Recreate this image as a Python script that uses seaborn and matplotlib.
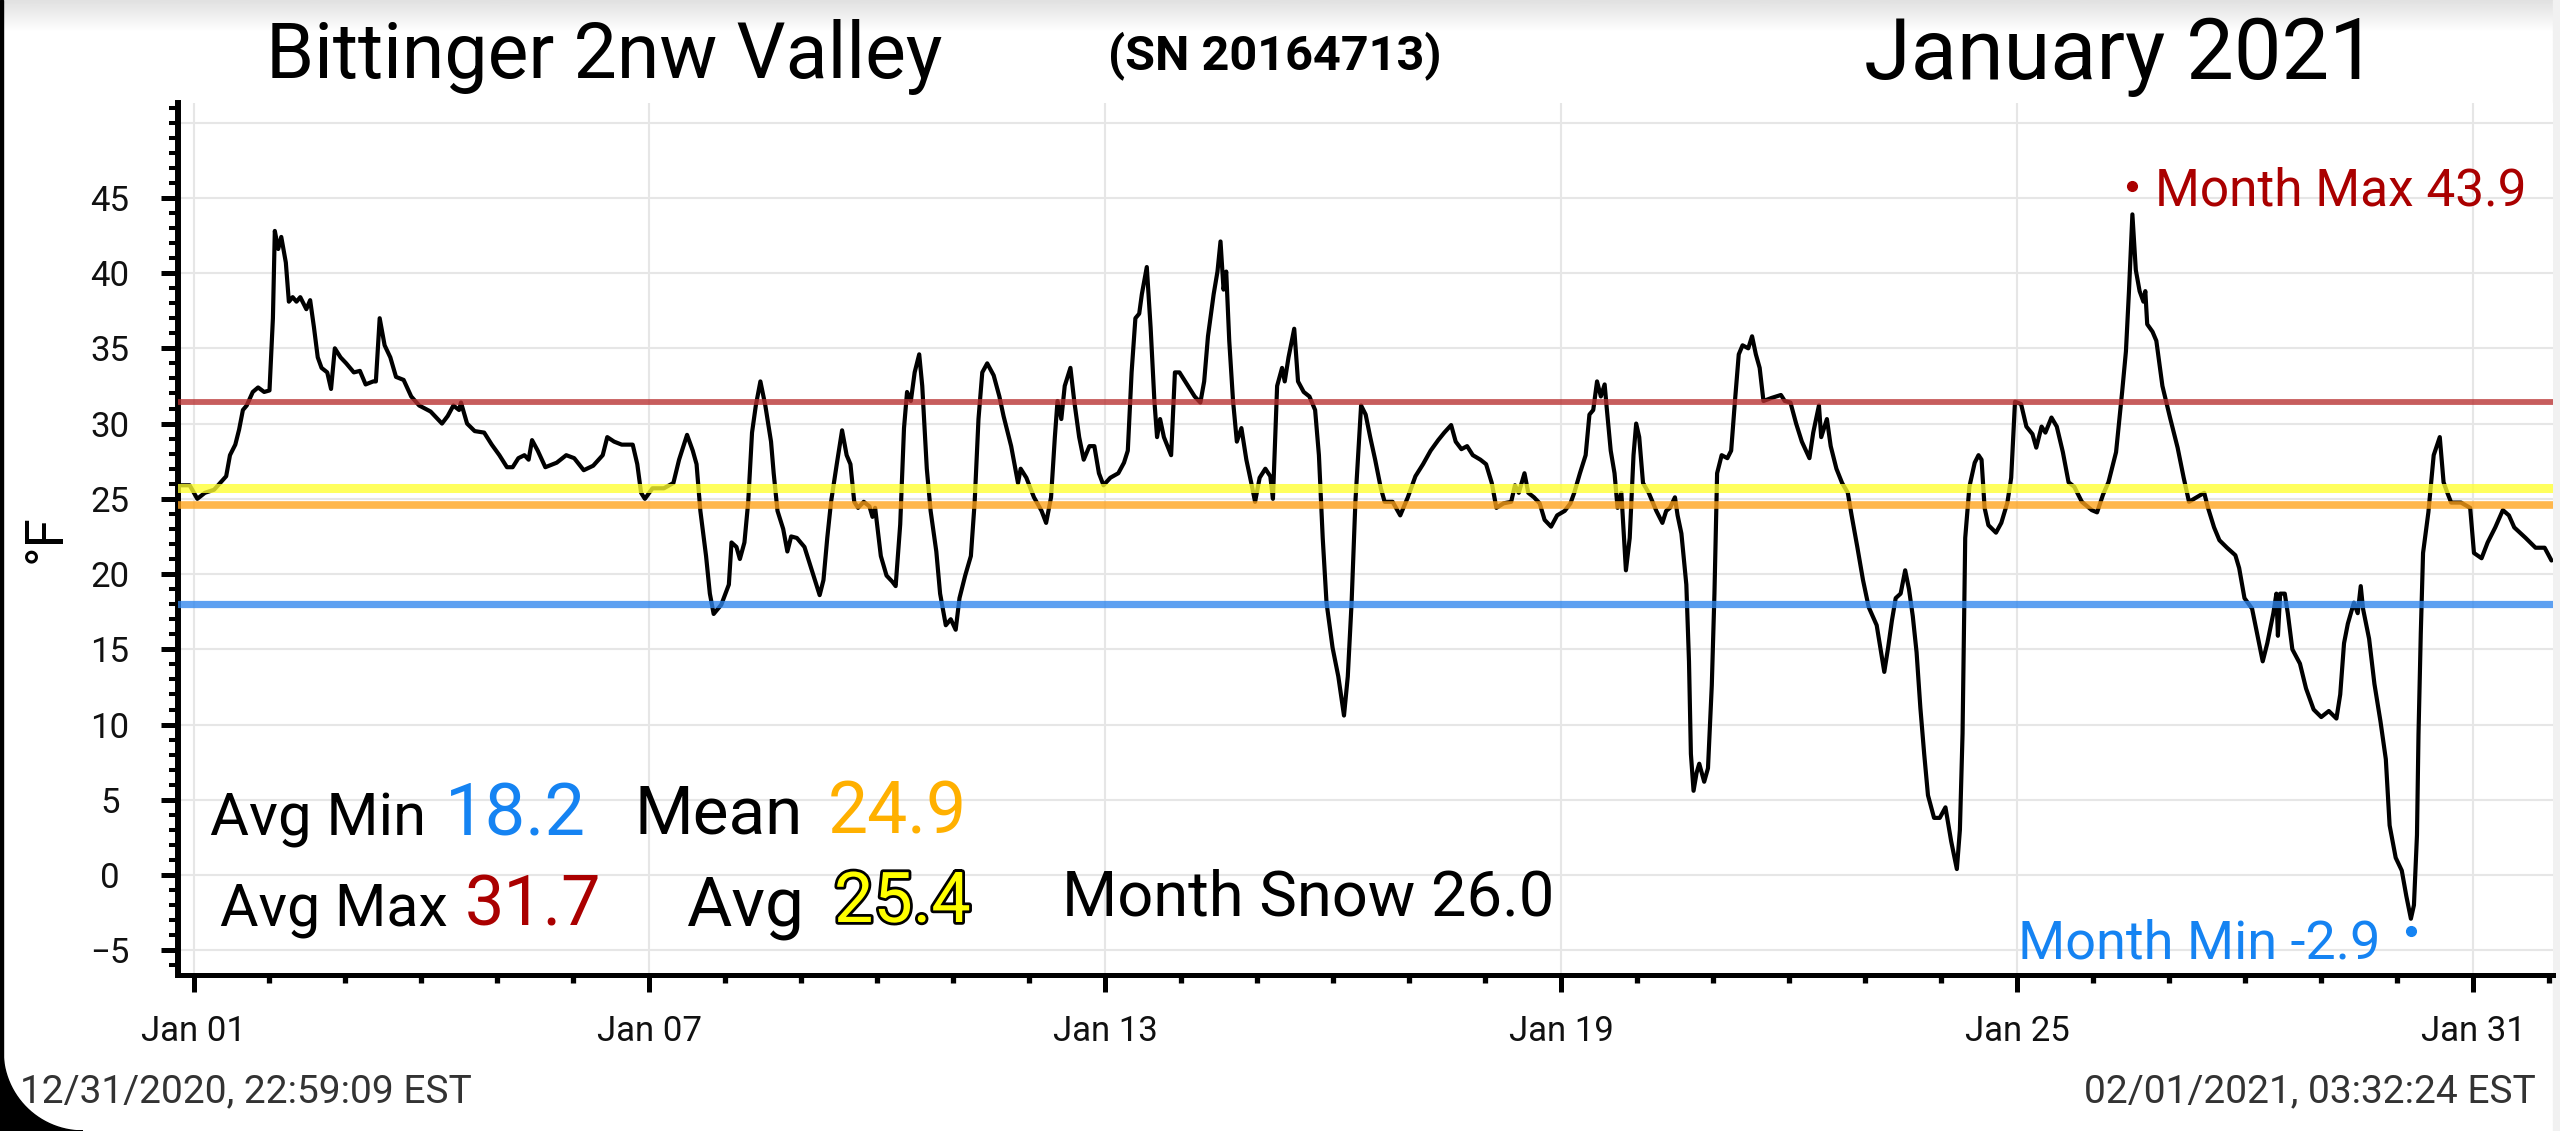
import numpy as np
import pandas as pd
import matplotlib
matplotlib.use("Agg")
import matplotlib.pyplot as plt
import matplotlib.dates as mdates
import matplotlib.ticker as mticker
import matplotlib.patheffects as pe
from matplotlib.patches import Polygon, Rectangle
import seaborn as sns

# ── temperature trace (days after 2021-01-01 00:00, °F) ──
days = [
    -0.20, -0.05, 0.05, 0.15, 0.27, 0.35, 0.43, 0.48, 0.55, 0.60, 0.65, 0.70, 0.78, 0.85, 0.93, 1.00,
    1.045, 1.07, 1.115, 1.155, 1.215, 1.255, 1.305, 1.355, 1.405, 1.485, 1.535, 1.585, 1.635, 1.685,
    1.76, 1.81, 1.86, 1.935, 2.01, 2.11, 2.19, 2.265, 2.365, 2.40, 2.45, 2.515, 2.59, 2.665, 2.765,
    2.865, 2.97, 3.12, 3.27, 3.345, 3.42, 3.495, 3.52, 3.60, 3.70, 3.825, 3.925, 4.025, 4.125, 4.20,
    4.275, 4.355, 4.41, 4.455, 4.53, 4.63, 4.78, 4.905, 5.01, 5.135, 5.26, 5.385, 5.445, 5.535, 5.635,
    5.78, 5.84, 5.89, 5.94, 6.04, 6.19, 6.315, 6.39, 6.495, 6.57, 6.62, 6.67, 6.745, 6.795, 6.845,
    6.945, 7.045, 7.08, 7.145, 7.19, 7.25, 7.30, 7.35, 7.40, 7.46, 7.525, 7.60, 7.635, 7.685, 7.76,
    7.815, 7.865, 7.94, 8.04, 8.14, 8.24, 8.29, 8.34, 8.39, 8.465, 8.535, 8.595, 8.645, 8.695, 8.745,
    8.82, 8.895, 8.935, 8.97, 9.045, 9.12, 9.195, 9.24, 9.30, 9.35, 9.39, 9.44, 9.49, 9.55, 9.59,
    9.65, 9.70, 9.775, 9.825, 9.90, 9.965, 10.03, 10.08, 10.155, 10.23, 10.28, 10.33, 10.38, 10.445,
    10.53, 10.605, 10.66, 10.76, 10.85, 10.885, 10.96, 11.06, 11.16, 11.22, 11.285, 11.335, 11.37,
    11.42, 11.465, 11.54, 11.59, 11.655, 11.715, 11.79, 11.855, 11.915, 11.975, 12.065, 12.17, 12.245,
    12.295, 12.345, 12.395, 12.445, 12.48, 12.545, 12.595, 12.645, 12.68, 12.72, 12.77, 12.865, 12.915,
    12.975, 13.05, 13.175, 13.25, 13.30, 13.35, 13.425, 13.475, 13.515, 13.555, 13.59, 13.63, 13.68,
    13.73, 13.79, 13.855, 13.92, 13.97, 14.03, 14.105, 14.17, 14.205, 14.26, 14.325, 14.36, 14.41,
    14.485, 14.535, 14.61, 14.685, 14.76, 14.81, 14.86, 14.91, 14.99, 15.065, 15.14, 15.19, 15.24,
    15.29, 15.34, 15.365, 15.425, 15.485, 15.55, 15.625, 15.675, 15.78, 15.88, 15.98, 16.08, 16.18,
    16.28, 16.38, 16.46, 16.55, 16.61, 16.685, 16.76, 16.835, 16.935, 17.01, 17.085, 17.145, 17.24,
    17.34, 17.39, 17.44, 17.515, 17.565, 17.64, 17.715, 17.78, 17.865, 17.945, 18.045, 18.12, 18.17,
    18.245, 18.32, 18.37, 18.42, 18.47, 18.52, 18.57, 18.60, 18.65, 18.70, 18.74, 18.79, 18.85, 18.90,
    18.95, 18.985, 19.025, 19.075, 19.15, 19.25, 19.33, 19.38, 19.43, 19.495, 19.53, 19.58, 19.645,
    19.68, 19.705, 19.74, 19.78, 19.815, 19.88, 19.93, 19.98, 20.015, 20.05, 20.11, 20.185, 20.235,
    20.285, 20.335, 20.385, 20.46, 20.51, 20.56, 20.61, 20.66, 20.765, 20.89, 20.94, 21.015, 21.09,
    21.165, 21.265, 21.315, 21.39, 21.42, 21.495, 21.545, 21.62, 21.695, 21.77, 21.82, 21.895, 21.97,
    22.045, 22.15, 22.25, 22.30, 22.35, 22.40, 22.465, 22.525, 22.575, 22.625, 22.675, 22.725, 22.775,
    22.825, 22.905, 22.98, 23.055, 23.13, 23.205, 23.245, 23.28, 23.315, 23.37, 23.44, 23.49, 23.53,
    23.57, 23.62, 23.72, 23.79, 23.87, 23.92, 23.97, 24.05, 24.12, 24.20, 24.25, 24.32, 24.37, 24.45,
    24.52, 24.60, 24.675, 24.75, 24.85, 24.98, 25.05, 25.13, 25.20, 25.30, 25.38, 25.43, 25.47, 25.515,
    25.56, 25.61, 25.66, 25.685, 25.71, 25.78, 25.83, 25.91, 26.01, 26.11, 26.19, 26.26, 26.36, 26.46,
    26.51, 26.59, 26.66, 26.76, 26.87, 26.92, 26.99, 27.09, 27.17, 27.23, 27.29, 27.37, 27.41, 27.43,
    27.46, 27.52, 27.56, 27.62, 27.72, 27.80, 27.90, 28.00, 28.10, 28.20, 28.25, 28.30, 28.35, 28.43,
    28.48, 28.52, 28.55, 28.63, 28.70, 28.78, 28.85, 28.90, 28.98, 29.06, 29.12, 29.18, 29.22, 29.26,
    29.28, 29.31, 29.34, 29.41, 29.48, 29.56, 29.61, 29.66, 29.71, 29.84, 29.96, 30.01, 30.11, 30.19,
    30.29, 30.39, 30.47, 30.54, 30.69, 30.82, 30.94, 31.03,
]
temps = [
    25.9, 25.9, 25.0, 25.4, 25.6, 26.05, 26.5, 27.9, 28.6, 29.6, 30.9, 31.2, 32.1, 32.4, 32.1, 32.2,
    37.0, 42.8, 41.6, 42.4, 40.7, 38.1, 38.4, 38.1, 38.4, 37.6, 38.2, 36.4, 34.4, 33.7,
    33.4, 32.3, 35.0, 34.4, 34.0, 33.4, 33.5, 32.6, 32.8, 32.8, 37.0, 35.2, 34.4, 33.1, 32.9,
    31.8, 31.2, 30.8, 30.0, 30.5, 31.2, 30.9, 31.4, 30.0, 29.5, 29.4, 28.6, 27.9, 27.1, 27.1,
    27.7, 27.9, 27.6, 28.9, 28.2, 27.1, 27.4, 27.9, 27.7, 26.9, 27.2, 27.9, 29.1, 28.8, 28.6,
    28.6, 27.3, 25.4, 25.0, 25.7, 25.7, 26.05, 27.6, 29.25, 28.2, 27.3, 24.2, 21.2, 18.7, 17.35,
    17.96, 19.3, 22.1, 21.8, 21.0, 22.1, 24.8, 29.4, 31.2, 32.8, 31.2, 28.8, 26.7, 24.2, 23.0,
    21.5, 22.5, 22.4, 21.8, 20.2, 18.6, 19.6, 22.4, 24.8, 27.3, 29.55, 27.9, 27.3, 24.8, 24.4,
    24.8, 24.5, 23.8, 24.4, 21.2, 19.9, 19.5, 19.2, 23.3, 29.7, 32.1, 31.5, 33.4, 34.6, 32.5,
    27.0, 24.2, 21.5, 18.7, 16.6, 17.0, 16.3, 18.4, 19.9, 21.2, 24.8, 30.3, 33.4, 34.0,
    33.2, 31.8, 30.5, 28.5, 26.05, 27.0, 26.4, 25.1, 24.2, 23.4, 25.1, 29.1, 31.5,
    30.3, 32.5, 33.7, 31.5, 29.1, 27.6, 28.5, 28.5, 26.7, 25.9, 26.4, 26.7, 27.4,
    28.2, 33.4, 37.0, 37.3, 38.6, 40.4, 36.4, 31.5, 29.1, 30.3, 29.1, 27.9, 33.4,
    33.4, 32.8, 31.8, 31.4, 32.8, 35.8, 38.6, 40.1, 42.1, 38.9, 40.1, 35.5, 31.5,
    28.8, 29.7, 27.6, 26.05, 24.8, 26.4, 27.0, 26.5, 25.0, 32.5, 33.7, 32.8, 34.4,
    36.3, 32.8, 32.1, 31.8, 30.9, 27.9, 22.4, 18.1, 15.1, 13.2, 10.6, 13.2, 18.1,
    24.8, 29.1, 31.2, 30.6, 29.1, 27.6, 25.7, 24.8, 24.8, 23.9, 25.1, 26.5, 27.3,
    28.2, 28.9, 29.4, 29.9, 28.8, 28.3, 28.5, 27.9, 27.6, 27.3, 26.05, 24.4, 24.7,
    24.8, 25.9, 25.4, 26.7, 25.4, 25.1, 24.7, 23.6, 23.15, 23.9, 24.2, 24.7, 25.4,
    26.7, 27.9, 30.6, 30.9, 32.8, 31.8, 32.6, 30.9, 28.2, 26.7, 24.4, 25.4, 20.25, 22.4,
    27.9, 30.0, 29.1, 26.05, 25.4, 24.2, 23.4, 24.2, 24.4, 25.1, 23.9, 22.7, 19.3,
    14.2, 8.05, 5.6, 6.8, 7.4, 6.2, 7.1, 12.6, 18.7, 26.7, 27.9, 27.7, 28.2,
    31.5, 34.6, 35.2, 35.0, 35.8, 34.6, 33.7, 31.5, 31.7, 31.9, 31.5, 31.4, 30.0,
    28.8, 27.7, 29.4, 31.2, 29.1, 30.3, 28.5, 27.0, 26.05, 25.4, 23.9, 21.8, 19.6,
    17.8, 16.6, 13.5, 15.1, 16.9, 18.4, 18.7, 20.25, 19.0, 17.2, 14.8, 11.1, 8.05,
    5.3, 3.8, 3.8, 4.5, 2.25, 0.4, 3.0, 9.4, 22.4, 25.8, 27.4, 27.9, 27.6,
    24.4, 23.25, 22.75, 23.4, 24.75, 26.4, 31.45, 31.3, 29.8, 29.3, 28.4, 29.8, 29.4, 30.4,
    29.8, 28.1, 26.1, 25.8, 24.8, 24.25, 24.1, 25.3, 26.1, 28.1, 32.1, 34.8, 38.8, 43.9,
    40.2, 38.8, 38.1, 38.8, 36.6, 36.1, 35.5, 32.5, 30.4, 28.4, 26.4, 24.8, 25.1, 25.4,
    24.4, 23.1, 22.25, 21.75, 21.25, 20.4, 18.4, 17.7, 15.7, 14.2, 15.4, 17.4, 18.7, 15.9,
    18.7, 18.7, 17.4, 15.0, 14.05, 12.4, 11.0, 10.5, 10.9, 10.4, 12.0, 15.4, 16.7, 18.1,
    17.4, 19.2, 17.7, 15.7, 12.7, 10.2, 7.7, 3.3, 1.15, 0.3, -1.4, -2.9, -2.0, 2.66,
    9.35, 16.05, 21.4, 24.1, 27.9, 29.1, 26.1, 25.4, 24.75, 24.75, 24.4, 21.4, 21.05, 22.1,
    23.1, 24.25, 23.9, 23.1, 22.4, 21.75, 21.75, 20.9,
]

# ── summary numbers printed on the chart ──
avg_min = 18.2
avg_max = 31.7
mean_temp = 24.9
avg_temp = 25.4
month_snow = 26.0

# reference bands as drawn (avg max, avg, mean, avg min)
band_levels = [31.45, 25.7, 24.6, 18.0]
band_colors = ["#b83030", "#ffff30", "#ffa31a", "#2f86ee"]
band_widths = [4.2, 6.5, 5.5, 5.2]

major_dates = ["2021-01-01", "2021-01-07", "2021-01-13", "2021-01-19", "2021-01-25", "2021-01-31"]

RED = "#aa0000"
BLUE = "#1583f2"
ORANGE = "#ffb000"
W, H = 2560, 1131

t0 = pd.Timestamp("2021-01-01")
df = pd.DataFrame({"time": t0 + pd.to_timedelta(days, unit="D"), "temp": temps})

sns.set_style("white")
plt.rcParams["font.family"] = ["Roboto", "DejaVu Sans"]
plt.rcParams["text.color"] = "black"
plt.rcParams["axes.labelcolor"] = "black"


def fpos(x, y):
    return x / W, 1 - y / H


fig = plt.figure(figsize=(W / 100, H / 100), dpi=100)

# ── screenshot frame: grey status strip, dark edge, rounded corner ──
bg = fig.add_axes([0, 0, 1, 1], zorder=-10)
bg.set_xlim(0, W)
bg.set_ylim(H, 0)
bg.axis("off")
bg.imshow(np.linspace(0.88, 1.0, 40)[:, None], cmap="gray", vmin=0, vmax=1,
          extent=[0, W, 32, 0], aspect="auto")
bg.add_patch(Rectangle((0, 0), 3, H, color="black"))
bg.add_patch(Rectangle((W - 7, 0), 7, H, color="#f1f1f1"))
ang = np.linspace(np.pi, np.pi / 2, 30)
r = 80
arc = np.column_stack([3 + r + r * np.cos(ang), H - r + r * np.sin(ang)])
bg.add_patch(Polygon(np.vstack([[0, H - r], arc, [0, H]]), color="black"))

ax = fig.add_axes([178 / W, 1 - 975 / H, (2553 - 178) / W, (975 - 103) / H])
sns.lineplot(data=df, x="time", y="temp", ax=ax, color="black", lw=3.0,
             estimator=None, zorder=3)

for lvl, col, lw in zip(band_levels, band_colors, band_widths):
    ax.axhline(lvl, color=col, lw=lw, alpha=0.78, zorder=4)

ax.set_xlim(t0 + pd.Timedelta(days=-0.204), t0 + pd.Timedelta(days=31.05))
ax.set_ylim(-6.64, 51.3)

ax.set_yticks(np.arange(-5, 50, 5))
ax.yaxis.set_minor_locator(mticker.MultipleLocator(1))
ax.set_xticks(pd.to_datetime(major_dates))
ax.xaxis.set_major_formatter(mdates.DateFormatter("%b %d"))
ax.xaxis.set_minor_locator(mdates.DayLocator())

ax.grid(True, which="major", color="#e6e6e6", lw=1.5, zorder=0)
ax.axhline(50, color="#e6e6e6", lw=1.5, zorder=0)

for s in ["top", "right"]:
    ax.spines[s].set_visible(False)
ax.spines["left"].set_linewidth(4.3)
ax.spines["bottom"].set_linewidth(3.6)
ax.spines["left"].set_color("black")
ax.spines["bottom"].set_color("black")

ax.tick_params(axis="both", which="both", left=True, bottom=True, direction="out")
ax.tick_params(axis="y", which="major", length=12, width=3.6, labelsize=25,
               pad=37, colors="black", labelcolor="#111111")
ax.tick_params(axis="y", which="minor", length=6.5, width=2.9, colors="black")
ax.tick_params(axis="x", which="major", length=12, width=3.6, labelsize=25,
               pad=17, colors="black", labelcolor="#111111")
ax.tick_params(axis="x", which="minor", length=6, width=3.8, colors="black")
plt.setp(ax.get_yticklabels(), ha="center")

ax.set_xlabel("")
ax.set_ylabel("°F", fontsize=38)
ax.yaxis.set_label_coords(-0.0446, 0.5)

# month extremes
i_max = int(np.argmax(temps))
i_min = int(np.argmin(temps))
t_max, v_max = df["time"][i_max], temps[i_max]
t_min, v_min = df["time"][i_min], temps[i_min]
ax.plot(t_max, v_max + 1.9, "o", color=RED, ms=7, zorder=5)
ax.annotate(f"Month Max {v_max:.1f}", xy=(t_max, v_max + 1.9), xytext=(16, -14.5),
            textcoords="offset points", ha="left", va="baseline", fontsize=37, color=RED)
ax.plot(t_min, v_min - 0.82, "o", color=BLUE, ms=7, zorder=5)
ax.annotate(f"Month Min {v_min:.1f}", xy=(t_min, v_min - 0.82), xytext=(-22, -20),
            textcoords="offset points", ha="right", va="baseline", fontsize=39, color=BLUE)

# summary block
fig.text(*fpos(210, 836), "Avg Min", fontsize=43, va="baseline")
fig.text(*fpos(445, 836), f"{avg_min:.1f}", fontsize=52, color=BLUE, va="baseline")
fig.text(*fpos(635, 834), "Mean", fontsize=48.5, va="baseline")
fig.text(*fpos(828, 833), f"{mean_temp:.1f}", fontsize=51.5, color=ORANGE, va="baseline")
fig.text(*fpos(220, 925), "Avg Max", fontsize=42.5, va="baseline")
fig.text(*fpos(465, 925), f"{avg_max:.1f}", fontsize=50.5, color=RED, va="baseline")
fig.text(*fpos(686, 926), "Avg", fontsize=50, va="baseline")
fig.text(*fpos(834, 922), f"{avg_temp:.1f}", fontsize=50.5, color="#ffff00", va="baseline",
         path_effects=[pe.withStroke(linewidth=4, foreground="black")])
fig.text(*fpos(1062, 915), f"Month Snow {month_snow:.1f}", fontsize=45.5, va="baseline")

# header
fig.text(*fpos(266, 78), "Bittinger 2nw Valley", fontsize=55.5, va="baseline")
fig.text(*fpos(1108, 69), "(SN 20164713)", fontsize=35, fontweight="bold", va="baseline")
fig.text(*fpos(1864, 79), "January 2021", fontsize=61, va="baseline")

# footer
fig.text(*fpos(20, 1102), "12/31/2020, 22:59:09 EST", fontsize=28, color="#333333", va="baseline")
fig.text(*fpos(2536, 1102), "02/01/2021, 03:32:24 EST", fontsize=28, color="#333333",
         va="baseline", ha="right")

fig.savefig("out.png", dpi=100)
